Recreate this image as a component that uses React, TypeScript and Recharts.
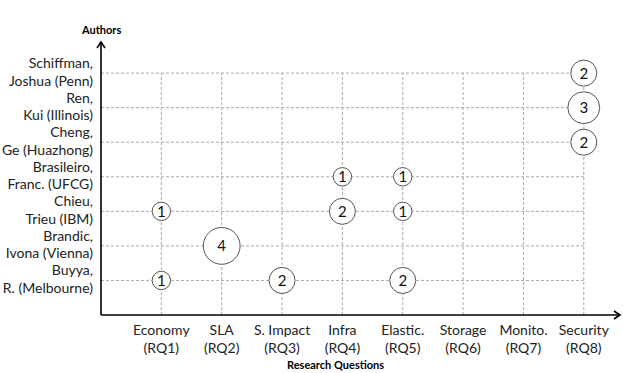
import { ScatterChart, Scatter, XAxis, YAxis, ZAxis, ReferenceLine, ReferenceDot } from 'recharts';

const questions = ['Economy', 'SLA', 'S. Impact', 'Infra', 'Elastic.', 'Storage', 'Monito.', 'Security'];
const questionCodes = ['(RQ1)', '(RQ2)', '(RQ3)', '(RQ4)', '(RQ5)', '(RQ6)', '(RQ7)', '(RQ8)'];

// bottom to top
const authorNames = ['Buyya,', 'Brandic,', 'Chieu,', 'Brasileiro,', 'Cheng,', 'Ren,', 'Schiffman,'];
const authorDetails = ['R. (Melbourne)', 'Ivona (Vienna)', 'Trieu (IBM)', 'Franc. (UFCG)', 'Ge (Huazhong)', 'Kui (Illinois)', 'Joshua (Penn)'];

// papers per research question, RQ1..RQ8
const buyya = [1, 0, 2, 0, 2, 0, 0, 0];
const brandic = [0, 4, 0, 0, 0, 0, 0, 0];
const chieu = [1, 0, 0, 2, 1, 0, 0, 0];
const brasileiro = [0, 0, 0, 1, 1, 0, 0, 0];
const cheng = [0, 0, 0, 0, 0, 0, 0, 2];
const ren = [0, 0, 0, 0, 0, 0, 0, 3];
const schiffman = [0, 0, 0, 0, 0, 0, 0, 2];

const counts = [buyya, brandic, chieu, brasileiro, cheng, ren, schiffman];

const points = counts.flatMap((row, a) =>
  row.map((count, q) => ({ x: q + 1, y: a + 1, count })).filter((p) => p.count > 0)
);

const FONT = 'Lato, "Open Sans", sans-serif';
const xTicks = questions.map((_, i) => i + 1);
const yTicks = authorNames.map((_, i) => i + 1);

const XTick = ({ x, y, payload }: any) => {
  const i = payload.value - 1;
  return (
    <text x={x} y={y} textAnchor="middle" fontFamily={FONT} fontSize={14} fill="#222">
      <tspan x={x} dy={20}>{questions[i]}</tspan>
      <tspan x={x} dy={17.5}>{questionCodes[i]}</tspan>
    </text>
  );
};

const YTick = ({ x, y, payload }: any) => {
  const i = payload.value - 1;
  return (
    <text x={x} y={y} textAnchor="end" fontFamily={FONT} fontSize={14} fill="#222">
      <tspan x={x} dy={-5}>{authorNames[i]}</tspan>
      <tspan x={x} dy={17.5}>{authorDetails[i]}</tspan>
    </text>
  );
};

const Bubble = (props: any) => {
  const { cx, cy, width, payload } = props;
  return (
    <g>
      <circle cx={cx} cy={cy} r={width / 2} fill="#fff" stroke="#555" strokeWidth={1} />
      <text x={cx} y={cy} dy={5.5} textAnchor="middle" fontFamily={FONT} fontSize={15} fill="#111">
        {payload.count}
      </text>
    </g>
  );
};

const UpArrow = ({ cx, cy }: any) => (
  <path d={`M${cx - 4},${cy + 6} L${cx},${cy} L${cx + 4},${cy + 6}`} fill="none" stroke="#000" strokeWidth={1.6} />
);

const RightArrow = ({ cx, cy }: any) => (
  <path d={`M${cx - 6},${cy - 4} L${cx},${cy} L${cx - 6},${cy + 4}`} fill="none" stroke="#000" strokeWidth={1.6} />
);

const gridStyle = { stroke: '#aaa', strokeDasharray: '3 2', strokeWidth: 1 };

const titleStyle = {
  position: 'absolute' as const,
  fontFamily: FONT,
  fontWeight: 'bold',
  fontSize: 11,
  color: '#000',
  whiteSpace: 'nowrap' as const,
};

export default function App() {
  return (
    <div style={{ position: 'absolute', left: 0, top: 0, width: 623, height: 373, background: '#fff' }}>
      <ScatterChart width={623} height={373} margin={{ top: 42, right: 3, left: 0, bottom: 0 }}>
        <XAxis
          type="number"
          dataKey="x"
          domain={[0, 8.6]}
          ticks={xTicks}
          tick={<XTick />}
          tickLine={false}
          tickSize={0}
          tickMargin={0}
          height={58}
          axisLine={{ stroke: '#000', strokeWidth: 1.6 }}
          interval={0}
        />
        <YAxis
          type="number"
          dataKey="y"
          domain={[0, 7.9]}
          ticks={yTicks}
          tick={<YTick />}
          tickLine={false}
          tickSize={0}
          tickMargin={8}
          width={101}
          axisLine={{ stroke: '#000', strokeWidth: 1.6 }}
          interval={0}
        />
        <ZAxis type="number" dataKey="count" domain={[0, 4]} range={[0, 4 * Math.PI * 9.2 * 9.2]} />
        {xTicks.map((t) => (
          <ReferenceLine key={`v${t}`} segment={[{ x: t, y: 0 }, { x: t, y: 7 }]} {...gridStyle} />
        ))}
        {yTicks.map((t) => (
          <ReferenceLine key={`h${t}`} segment={[{ x: 0, y: t }, { x: 8, y: t }]} {...gridStyle} />
        ))}
        <ReferenceDot x={0} y={7.9} shape={<UpArrow />} />
        <ReferenceDot x={8.6} y={0} shape={<RightArrow />} />
        <Scatter data={points} shape={<Bubble />} isAnimationActive={false} />
      </ScatterChart>
      <div style={{ ...titleStyle, left: 82, top: 23 }}>Authors</div>
      <div style={{ ...titleStyle, left: 287, top: 358 }}>Research Questions</div>
    </div>
  );
}
